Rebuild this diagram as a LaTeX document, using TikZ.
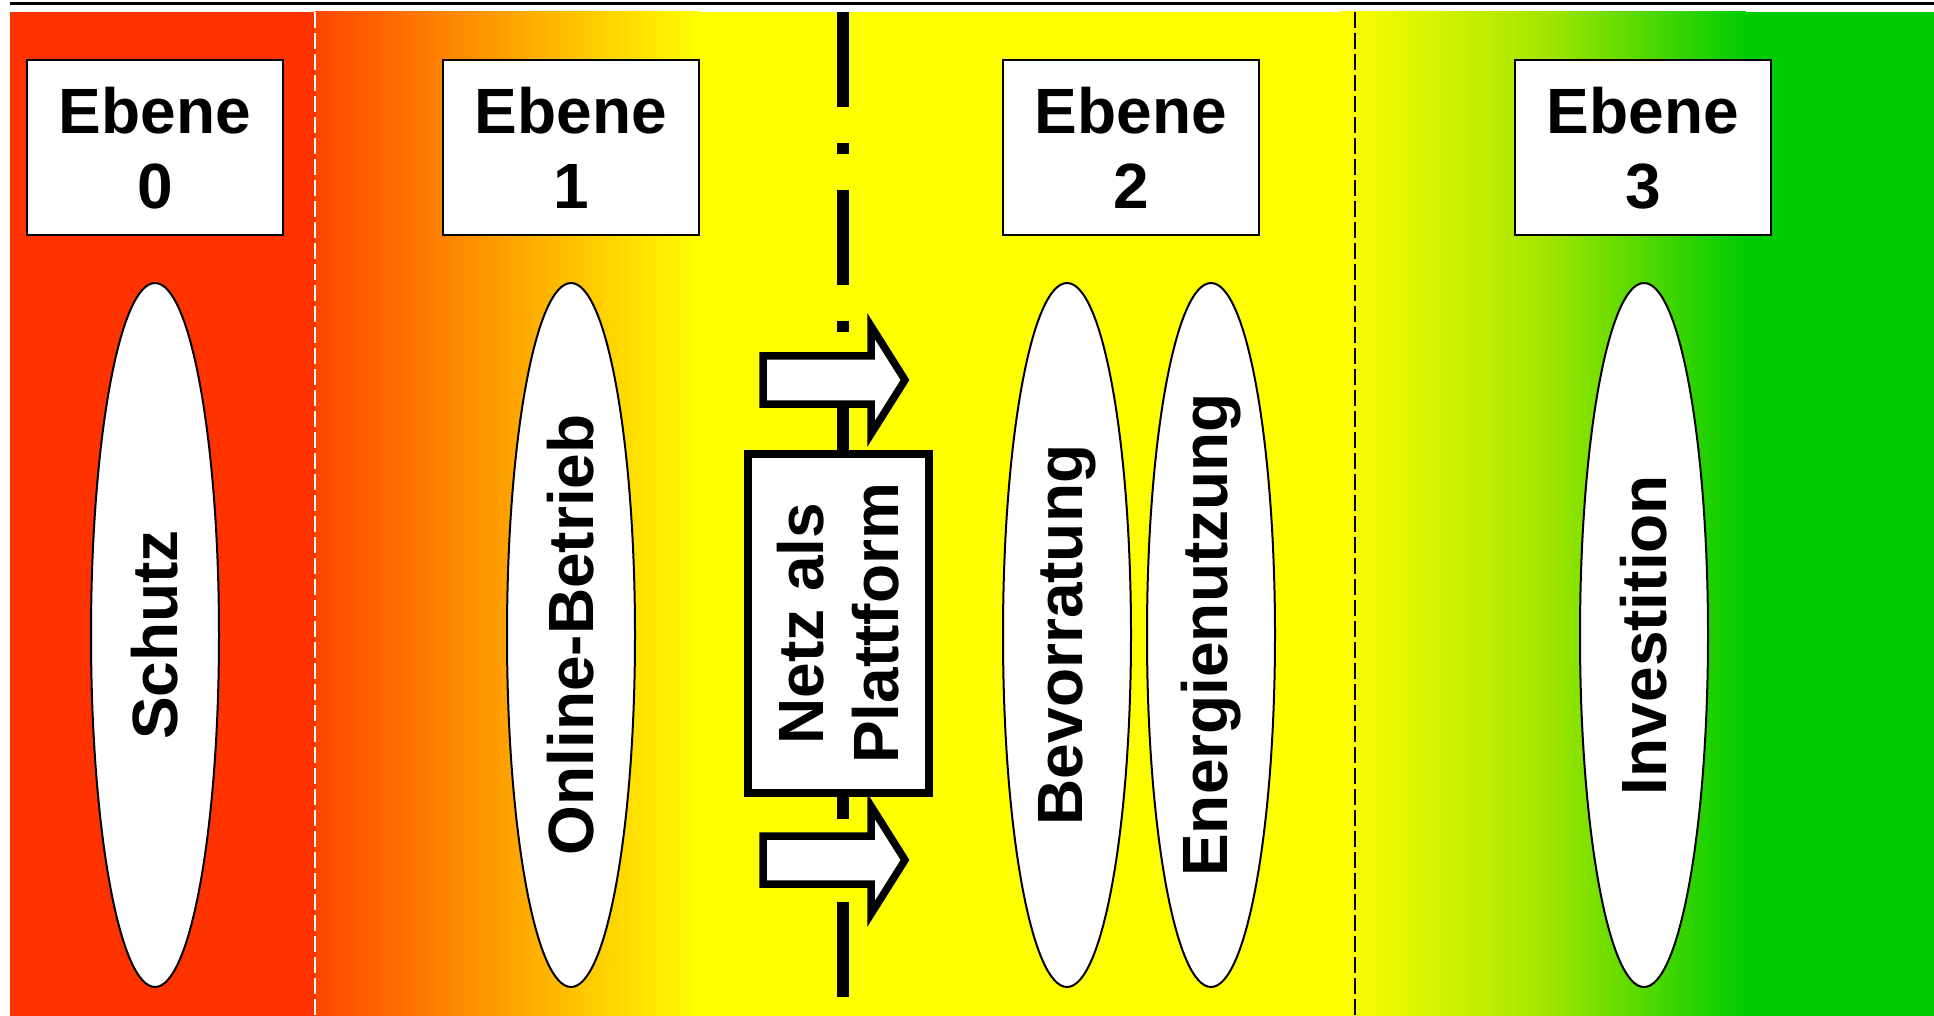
\documentclass[tikz,border=0pt]{standalone}
\usepackage{fontspec}
\setmainfont{Liberation Sans}
\usetikzlibrary{shapes.geometric}
\definecolor{redbg}{RGB}{255,51,0}
\definecolor{redstart}{RGB}{255,70,0}
\definecolor{yel}{RGB}{255,255,0}
\definecolor{ygreen}{RGB}{165,230,0}
\definecolor{grn}{RGB}{0,204,0}
\begin{document}
\begin{tikzpicture}[x=0.5pt,y=-0.5pt,
 bigfont/.style={font=\fontsize{32}{37.5}\selectfont\bfseries},
 levelbox/.style={draw=black, fill=white, line width=1pt, minimum width=128pt, minimum height=87.5pt, inner sep=0pt, align=center, bigfont},
 ell/.style={ellipse, draw=black, fill=white, line width=1pt, minimum width=352pt, minimum height=64pt, inner sep=0pt, rotate=90, bigfont},
 platbox/.style={draw=black, fill=white, line width=4pt, minimum width=169.5pt, minimum height=90.5pt, rotate=90, align=center, inner sep=0pt, bigfont},
 blockarrow/.style={draw=black, fill=white, line width=3.75pt, miter limit=10},
 sep/.style={line width=1pt, dash pattern=on 8pt off 2.5pt},
 dashdot/.style={line width=6pt, dash pattern=on 47.5pt off 18pt on 5.5pt off 18pt}]
\useasboundingbox (0,0) rectangle (1934,1016);
% background
\fill[redbg] (10,12) rectangle (316,1016);
\shade[left color=redstart, right color=yel] (315,12) rectangle (700,1016);
\fill[yel] (699,12) rectangle (1341,1016);
\shade[left color=yel, right color=grn, middle color=ygreen] (1340,12) rectangle (1746,1016);
\fill[grn] (1745,12) rectangle (1934,1016);
% top rule
\draw[line width=1.5pt] (10,3.5) -- (1934,3.5);
% separators
\coordinate (s1t) at (315,12); \coordinate (s1b) at (315,1016);
\coordinate (s2t) at (1355,12); \coordinate (s2b) at (1355,1016);
\coordinate (ddt) at (843,12); \coordinate (ddb) at (843,1016);
\draw[sep, white] (s1t) -- (s1b);
\draw[sep, black, line width=1.3pt] (s2t) -- (s2b);
\draw[dashdot] (ddt) -- (ddb);
% block arrows
\draw[blockarrow] (763,356) -- (871,356) -- (871,326) -- (905,380) -- (871,434) -- (871,404) -- (763,404) -- cycle;
\draw[blockarrow] (763,836) -- (871,836) -- (871,806) -- (905,860) -- (871,914) -- (871,884) -- (763,884) -- cycle;
% level boxes
\node[levelbox] (e0) at (155,148) {Ebene\\0};
\node[levelbox] (e1) at (571,148) {Ebene\\1};
\node[levelbox] (e2) at (1131,148) {Ebene\\2};
\node[levelbox] (e3) at (1643,148) {Ebene\\3};
% ellipses
\node[ell] (schutz) at (155,635) {Schutz};
\node[ell] (online) at (571,635) {Online-Betrieb};
\node[ell] (bevor) at (1067,635) {Bevorratung};
\node[ell] (energie) at (1211,635) {Energienutzung};
\node[ell] (invest) at (1644,635) {Investition};
% platform box
\node[platbox] (netz) at (838.5,623.5) {Netz als\\Plattform};
\end{tikzpicture}
\end{document}
